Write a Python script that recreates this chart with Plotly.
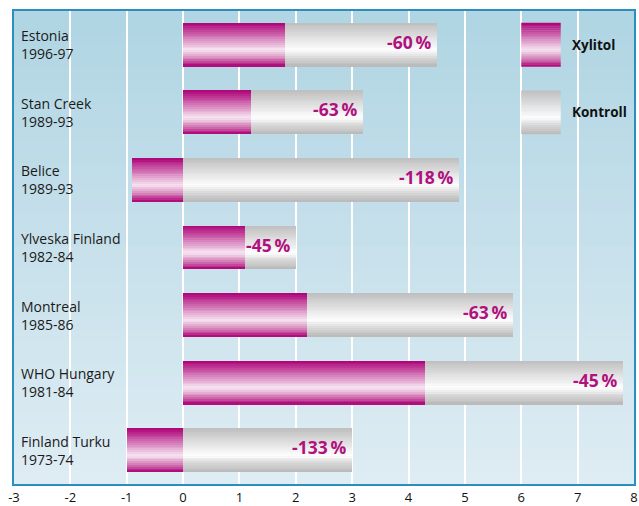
import plotly.graph_objects as go

categories = ["Estonia<br>1996-97", "Stan Creek<br>1989-93", "Belice<br>1989-93",
              "Ylveska Finland<br>1982-84", "Montreal<br>1985-86",
              "WHO Hungary<br>1981-84", "Finland Turku<br>1973-74"]
xylitol = [1.8, 1.2, -0.9, 1.1, 2.2, 4.3, -1.0]
kontroll = [4.5, 3.2, 4.9, 2.0, 5.85, 7.8, 3.0]
reduction = ["-60\u2009%", "-63\u2009%", "-118\u2009%", "-45\u2009%", "-63\u2009%", "-45\u2009%", "-133\u2009%"]
tick_vals = [-3, -2, -1, 0, 1, 2, 3, 4, 5, 6, 7, 8]
tick_text = ["-3", "-2", "-1", "0", "1", "2", "3", "4", "5", "6", "7", "8"]
legend_names = ["Xylitol", "Kontroll"]

PINK_STOPS = [(0.0, (172, 0, 118)), (0.62, (247, 230, 242)), (0.82, (212, 125, 182)), (1.0, (172, 0, 118))]
GRAY_STOPS = [(0.0, (190, 190, 190)), (0.62, (254, 254, 254)), (0.8, (214, 214, 214)), (1.0, (184, 184, 184))]


def grad(stops, t):
    for (t0, c0), (t1, c1) in zip(stops[:-1], stops[1:]):
        if t0 <= t <= t1:
            f = (t - t0) / (t1 - t0) if t1 > t0 else 0
            c = [round(a + (b - a) * f) for a, b in zip(c0, c1)]
            return "rgb(%d,%d,%d)" % tuple(c)
    return "rgb(%d,%d,%d)" % stops[-1][1]


N = 24
BW = 0.65
h = BW / N
ypos = list(range(len(categories)))

fig = go.Figure()
for stops, vals in [(GRAY_STOPS, kontroll), (PINK_STOPS, xylitol)]:
    for i in range(N):
        t = (i + 0.5) / N
        fig.add_trace(go.Bar(
            y=ypos, x=vals, orientation="h",
            offset=-BW / 2 + i * h, width=h * (1.15 if i < N - 1 else 1.0),
            marker=dict(color=grad(stops, t), line=dict(width=0)),
            showlegend=False, hoverinfo="skip"))

shapes = []
# background gradient
NB = 40
top_c = (176, 213, 227)
bot_c = (222, 236, 243)
for i in range(NB):
    f = i / (NB - 1)
    c = tuple(round(a + (b - a) * f) for a, b in zip(top_c, bot_c))
    shapes.append(dict(type="rect", xref="paper", yref="paper", x0=0, x1=1,
                       y0=1 - (i + 1) / NB, y1=1 - i / NB + 0.002, layer="below",
                       line=dict(width=0), fillcolor="rgb(%d,%d,%d)" % c))
# legend swatches
for k, stops in enumerate([PINK_STOPS, GRAY_STOPS]):
    for i in range(N):
        t = (i + 0.5) / N
        y0 = k - BW / 2 + i * h
        shapes.append(dict(type="rect", xref="x", yref="y", x0=6.0, x1=6.7,
                           y0=y0, y1=y0 + h * (1.15 if i < N - 1 else 1.0),
                           layer="above", line=dict(width=0), fillcolor=grad(stops, t)))

annotations = []
for j, cat in enumerate(categories):
    annotations.append(dict(xref="paper", yref="y", x=0, y=j, xshift=5, xanchor="left",
                            align="left", text=cat, showarrow=False,
                            font=dict(family="Open Sans", size=14, color="#1a1a1a")))
    annotations.append(dict(xref="x", yref="y", x=kontroll[j], y=j, xshift=-3, yshift=3,
                            xanchor="right", text="<b>%s</b>" % reduction[j], showarrow=False,
                            font=dict(family="Open Sans", size=17.5, color="#b0117f")))
for k, name in enumerate(legend_names):
    annotations.append(dict(xref="x", yref="y", x=6.7, y=k, xshift=9, xanchor="left",
                            text="<b>%s</b>" % name, showarrow=False,
                            font=dict(family="Open Sans", size=13.5, color="#111111")))

fig.update_layout(
    width=639, height=506,
    margin=dict(l=14, r=5, t=11, b=22, autoexpand=False),
    paper_bgcolor="white", plot_bgcolor="rgb(200,225,235)",
    barmode="overlay", bargap=0,
    shapes=shapes, annotations=annotations,
    xaxis=dict(range=[-3, 8], tickvals=tick_vals, ticktext=tick_text,
               showgrid=True, gridcolor="white", gridwidth=1.5, zeroline=False,
               showline=True, mirror=True, linecolor="#2c8dbf", linewidth=2,
               ticks="", ticklabelstandoff=0, automargin=False,
               tickfont=dict(family="Open Sans", size=13, color="#111111"),
               fixedrange=True),
    yaxis=dict(range=[6.5, -0.5], showticklabels=False, showgrid=False, zeroline=False,
               showline=True, mirror=True, linecolor="#2c8dbf", linewidth=2, ticks="",
               automargin=False, fixedrange=True),
)
fig.write_html("out.html", config={"displayModeBar": False},
               post_script="document.body.style.margin='0';document.body.style.overflow='hidden';")
